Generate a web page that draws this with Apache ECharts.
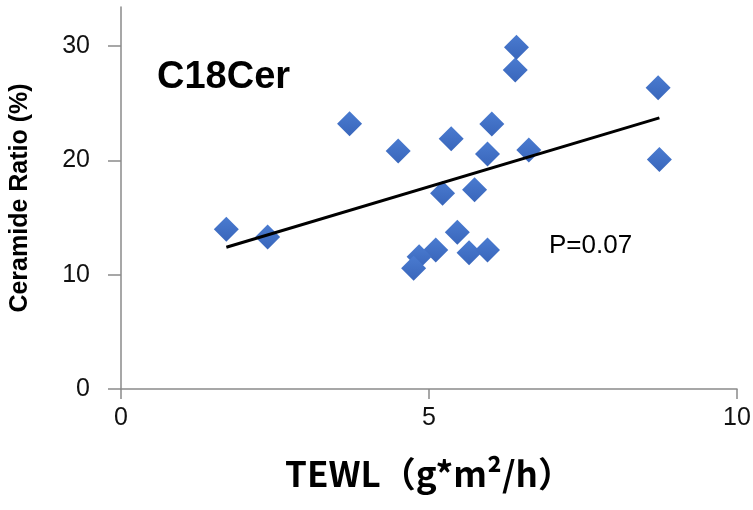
<!DOCTYPE html>
<html>
<head>
<meta charset="utf-8">
<script src="https://cdn.jsdelivr.net/npm/echarts@6/dist/echarts.min.js"></script>
<style>
  html, body { margin: 0; padding: 0; background: #fff; }
  #chart { width: 753px; height: 510px; }
</style>
</head>
<body>
<div id="chart"></div>
<script>
// TEWL (g*m²/h) for each subject
const tewl = [1.71, 2.38, 3.71, 4.50, 5.36, 5.22, 5.74, 5.95, 6.02, 6.40,
              6.42, 6.62, 8.72, 8.74, 5.46, 5.11, 5.65, 5.95, 4.84, 4.75];
// C18 ceramide ratio (%) for the same subjects
const ceramideRatio = [13.97, 13.29, 23.20, 20.82, 21.87, 17.12, 17.43, 20.55, 23.18, 27.90,
                       29.89, 20.90, 26.35, 20.06, 13.71, 12.16, 11.92, 12.16, 11.57, 10.56];
const yTicks = [0, 10, 20, 30];
const xTicks = [0, 5, 10];
const panelLabel = 'C18Cer';
const pLabel = 'P=0.07';

// Least-squares trend line over the observed TEWL range
function linearFit(xs, ys) {
  const n = xs.length;
  const mx = xs.reduce((a, b) => a + b, 0) / n;
  const my = ys.reduce((a, b) => a + b, 0) / n;
  let sxy = 0, sxx = 0;
  for (let i = 0; i < n; i++) {
    sxy += (xs[i] - mx) * (ys[i] - my);
    sxx += (xs[i] - mx) * (xs[i] - mx);
  }
  const slope = sxy / sxx;
  return { slope, intercept: my - slope * mx };
}
const fit = linearFit(tewl, ceramideRatio);
const xLo = Math.min(...tewl), xHi = Math.max(...tewl);
const trend = [xLo, xHi].map(x => [x, fit.intercept + fit.slope * x]);

const points = tewl.map((x, i) => [x, ceramideRatio[i]]);

const axisGrey = '#8a8a8a';
const chart = echarts.init(document.getElementById('chart'));
chart.setOption({
  animation: false,
  backgroundColor: '#ffffff',
  grid: { left: 121, right: 16, top: 7, bottom: 121, outerBoundsMode: 'none' },
  xAxis: {
    type: 'value', min: 0, max: 10, interval: 5,
    name: 'TEWL（g*m²/h）',
    nameLocation: 'middle', nameGap: 67,
    nameTextStyle: { fontFamily: 'Noto Sans CJK JP', fontWeight: 'bold', fontSize: 35, color: '#000' },
    axisLine: { show: true, lineStyle: { color: axisGrey, width: 1.5 } },
    axisTick: { show: true, length: 10, lineStyle: { color: axisGrey, width: 1.5 }, customValues: xTicks },
    axisLabel: { margin: 17, fontFamily: 'Liberation Sans', fontSize: 25, color: '#111', customValues: xTicks },
    splitLine: { show: false }
  },
  yAxis: {
    type: 'value', min: 0, max: 33.4, interval: 10,
    name: 'Ceramide Ratio (%)',
    nameLocation: 'middle', nameGap: 88,
    nameTextStyle: { fontFamily: 'Liberation Sans', fontWeight: 'bold', fontSize: 25, color: '#000' },
    axisLine: { show: true, lineStyle: { color: axisGrey, width: 1.5 } },
    axisTick: { show: true, length: 13, lineStyle: { color: axisGrey, width: 1.5 }, customValues: yTicks },
    axisLabel: { margin: 31, fontFamily: 'Liberation Sans', fontSize: 25, color: '#111', customValues: yTicks },
    splitLine: { show: false }
  },
  graphic: [
    { type: 'text', left: 157, top: 59,
      style: { text: panelLabel, fontFamily: 'Liberation Sans', fontWeight: 'bold', fontSize: 38, fill: '#000' } },
    { type: 'text', left: 549, top: 233,
      style: { text: pLabel, fontFamily: 'Liberation Sans', fontSize: 26, fill: '#000' } }
  ],
  series: [
    {
      type: 'scatter',
      data: points,
      symbol: 'diamond',
      symbolSize: 25,
      itemStyle: {
        opacity: 1,
        color: new echarts.graphic.LinearGradient(0, 0, 0, 1, [
          { offset: 0, color: '#4a7bd0' },
          { offset: 1, color: '#3966bb' }
        ])
      },
      z: 2
    },
    {
      type: 'line',
      data: trend,
      symbol: 'none',
      lineStyle: { color: '#000', width: 3 },
      z: 3
    }
  ]
});
</script>
</body>
</html>
